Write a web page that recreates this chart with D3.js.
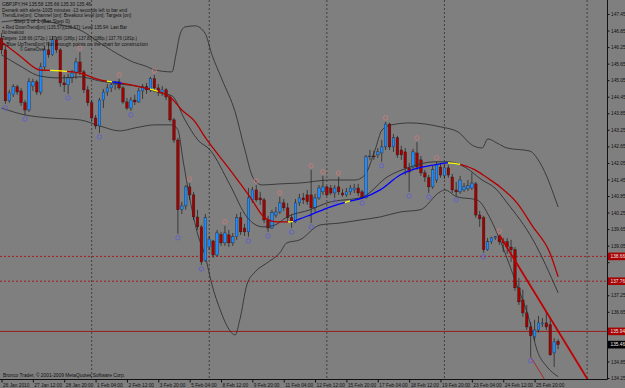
<!DOCTYPE html>
<html>
<head>
<meta charset="utf-8">
<script src="https://d3js.org/d3.v7.min.js"></script>
<style>
  body { margin: 0; background: #7f7f7f; }
  svg { display: block; }
  text { font-family: "Liberation Sans", Arial, sans-serif; }
</style>
</head>
<body>
<svg width="625" height="388"></svg>
<script>
// GBPJPY H4 candles, 26 Jan 2010 04:00 .. 26 Feb 2010 20:00 : [open, high, low, close]
var bars = [
  [146.58,146.76,146.00,146.15],[146.15,146.33,144.19,144.30],[144.30,144.70,144.23,144.59],[144.52,144.91,144.44,144.81],
  [144.81,144.88,144.52,144.62],[144.66,144.77,144.12,144.23],[144.23,144.33,143.79,143.97],[143.97,145.13,143.90,144.99],
  [144.84,145.10,144.66,144.99],[144.99,145.06,144.52,144.62],[144.62,145.68,144.52,145.53],[145.53,146.29,145.42,146.15],
  [146.15,146.44,145.86,145.97],[145.97,146.65,145.93,146.51],[146.51,146.62,146.04,146.15],[146.15,146.22,144.81,144.95],
  [144.95,145.24,144.62,144.88],[144.88,145.28,144.55,145.13],[145.13,145.42,144.95,145.31],[145.31,145.86,145.10,145.71],
  [145.71,146.07,145.24,145.35],[145.35,145.42,144.59,144.70],[144.70,144.84,144.12,144.23],[144.23,144.33,143.57,143.68],
  [143.68,143.79,143.28,143.39],[143.39,144.41,143.14,144.33],[144.33,144.73,144.04,144.62],[144.62,144.91,144.48,144.77],
  [144.77,145.02,144.62,144.88],[144.88,145.02,144.70,144.99],[144.99,145.10,144.70,144.77],[144.77,144.84,144.19,144.26],
  [144.26,144.41,143.97,144.04],[144.04,144.44,143.94,144.33],[144.33,144.52,144.15,144.26],[144.26,144.77,144.23,144.66],
  [144.66,144.91,144.37,144.81],[144.81,144.95,144.55,144.70],[144.70,145.17,144.62,145.10],[145.10,145.24,144.66,144.77],
  [144.77,144.91,144.48,144.62],[144.62,144.84,144.48,144.70],[144.70,144.77,144.33,144.44],[144.44,144.52,143.54,143.61],
  [143.61,143.68,142.78,142.88],[142.88,142.96,139.48,140.35],[140.35,140.64,140.20,140.49],[140.49,141.25,140.35,141.18],
  [141.18,141.32,140.71,140.89],[140.89,141.00,139.98,140.09],[140.09,140.35,139.62,139.73],[139.73,139.80,138.35,138.46],
  [138.50,140.20,138.46,140.06],[139.00,139.40,138.90,139.29],[139.22,139.26,138.61,138.71],[138.71,139.62,138.66,139.51],
  [139.45,139.55,139.04,139.15],[139.15,139.77,139.04,139.51],[139.44,139.62,139.00,139.15],[139.15,139.51,139.04,139.37],
  [139.37,140.20,139.26,140.06],[140.06,140.27,139.44,139.55],[139.69,139.84,139.40,139.55],[139.55,141.14,139.37,140.78],
  [140.71,141.18,140.60,141.07],[141.07,141.25,140.64,140.71],[140.78,141.00,140.53,140.71],[140.71,140.78,139.87,139.98],
  [139.98,140.13,139.55,139.69],[139.69,140.35,139.66,140.24],[140.16,140.45,140.06,140.27],[140.27,140.82,140.20,140.60],
  [140.60,140.74,140.31,140.42],[140.42,140.60,139.95,140.06],[140.06,140.20,139.69,139.91],[139.91,140.74,139.87,140.60],
  [140.60,140.93,140.49,140.78],[140.78,140.96,140.56,140.71],[140.89,141.07,140.53,140.64],[140.89,141.80,139.87,140.42],
  [140.42,140.93,140.27,140.78],[140.78,141.25,140.71,141.14],[141.00,141.58,140.89,141.18],[141.18,141.22,140.85,140.89],
  [141.14,141.25,140.89,140.96],[140.96,141.25,140.78,141.14],[141.18,141.54,140.89,141.00],[140.96,141.11,140.82,140.89],
  [140.89,141.14,140.82,141.00],[141.00,141.25,140.89,141.14],[141.07,141.29,140.96,141.14],[141.14,141.29,140.85,140.96],
  [141.00,141.07,140.74,140.78],[140.78,142.34,140.76,142.27],[142.27,142.52,142.16,142.30],[142.30,142.49,142.16,142.27],
  [142.34,142.59,142.23,142.45],[142.41,142.88,142.09,142.63],[142.63,143.54,142.52,143.46],[143.46,143.50,142.52,142.63],
  [142.63,143.10,142.45,142.96],[142.96,143.03,142.23,142.34],[142.52,142.67,142.16,142.34],[142.45,142.59,141.61,141.87],
  [141.87,142.05,141.00,141.72],[141.90,142.56,141.80,142.45],[142.41,142.81,141.80,141.90],[142.16,142.30,141.58,141.69],
  [141.69,141.80,141.36,141.54],[141.51,141.61,140.96,141.18],[141.18,141.94,141.11,141.80],[141.43,142.09,141.32,141.98],
  [141.90,142.05,141.51,141.61],[141.58,141.98,141.47,141.87],[141.87,141.98,141.51,141.61],[141.54,141.65,140.96,141.07],
  [141.07,141.36,140.85,141.00],[141.00,141.58,140.93,141.43],[141.07,141.32,141.00,141.18],[141.11,141.43,141.03,141.22],
  [141.14,141.69,141.07,141.32],[141.29,141.36,140.06,140.16],[140.16,140.31,139.73,140.02],[140.06,140.13,138.79,138.90],
  [138.90,139.33,138.86,139.19],[139.19,139.37,139.11,139.33],[139.33,139.40,139.26,139.37],[139.37,139.44,139.08,139.19],
  [139.19,139.33,138.82,139.15],[139.19,139.33,138.75,139.00],[139.00,139.26,138.46,138.90],[138.90,139.00,137.41,137.52],
  [137.52,137.88,136.90,137.01],[137.08,137.45,136.47,136.61],[136.61,136.90,135.99,136.10],[136.10,136.28,135.02,135.78],
  [135.74,136.36,135.60,135.99],[135.99,136.50,135.89,136.25],[136.21,136.43,136.10,136.25],[136.25,136.65,135.99,136.10],
  [136.18,136.43,135.05,135.09],[135.16,135.70,134.65,135.56],[135.58,135.66,135.30,135.46]
];

var timeLabels = ["26 Jan 2010","27 Jan 12:00","28 Jan 20:00","1 Feb 04:00","2 Feb 12:00","3 Feb 20:00",
  "5 Feb 04:00","8 Feb 12:00","9 Feb 20:00","11 Feb 04:00","12 Feb 12:00","15 Feb 20:00","17 Feb 04:00",
  "18 Feb 12:00","19 Feb 20:00","23 Feb 04:00","24 Feb 12:00","25 Feb 20:00"];
var labelBars = [0,8,16,24,32,40,48,56,64,72,80,88,96,104,112,120,128,136];
var priceTicks = [147.45,146.85,146.25,145.65,145.05,144.45,143.85,143.25,142.65,142.05,141.45,140.85,
  140.25,139.65,139.05,138.45,137.85,137.25,136.65,136.05,135.45,134.85,134.25];

var weekStarts = [23, 53, 83, 113];
var extraSeparator = 149.4;

var fractalHighs = [20,30,39,48,57,65,71,79,82,86,98,106,111,127];
var fractalLows = [1,6,17,25,33,45,51,63,68,74,79,85,92,97,104,109,116,123,135];

// moving average: [bar, price]
var maLine = [[0,146.44],[4.7,145.93],[9.8,145.42],[14.9,145.39],[20,145.31],[25.1,145.06],[30.2,144.95],
  [35.3,144.81],[40.4,144.62],[43,144.44],[46,143.97],[49.4,143.54],[51.9,142.99],[58.3,141.80],[63.4,140.82],
  [67.2,140.06],[70.3,139.91],[73.6,139.91],[76.1,140.02],[78.7,140.16],[83.8,140.45],[88.1,140.64],[92.2,140.78],
  [96.6,141.07],[101.7,141.61],[105.5,141.83],[110.6,141.98],[113.9,142.05],[117.5,141.98],[120.8,141.80],
  [123.9,141.51],[127.2,141.18],[131.5,140.60],[135.6,139.73],[139.9,138.79],[142,137.92]];
// direction of that average: [fromBar, toBar, state]
var maState = [[0,12.4,"down"],[12.4,16.7,"flat"],[16.7,26.9,"down"],[26.9,28.2,"flat"],[28.2,30.7,"up"],
  [30.7,37.9,"down"],[37.9,39.9,"flat"],[39.9,73.1,"down"],[73.1,74.4,"flat"],[74.4,87.6,"up"],
  [87.6,88.9,"flat"],[88.9,113.9,"up"],[113.9,117,"flat"],[117,142.5,"down"]];

var midLine = [[0,145.97],[4.7,145.57],[9.8,145.20],[14.9,145.13],[20,145.17],[25.1,145.02],[30.2,144.91],
  [35.3,144.81],[40.4,144.59],[43.5,144.48],[46.8,143.61],[50.1,142.88],[53.2,142.52],[58.3,141.25],[62.6,140.09],
  [66.7,139.73],[69.8,139.80],[72.8,140.09],[78.7,140.35],[83,140.60],[92.2,140.82],[98.4,141.54],[104.2,141.90],
  [110.6,142.09],[113.9,142.09],[118.2,141.90],[122.6,141.43],[125.9,141.14],[129,140.60],[135.6,139.26],[142,137.34]];

var bandUpper = [[0,147.16],[6,147.23],[12.4,147.16],[16.2,147.02],[20,146.87],[25.1,146.40],[31,145.89],
  [33.5,145.71],[36.6,145.57],[39.2,145.42],[43.5,145.35],[44.5,145.97],[45.5,146.69],[46.8,146.98],[49.4,147.02],
  [51.9,146.76],[53.7,145.97],[56.3,145.06],[59.6,143.90],[62.1,142.52],[64.2,141.51],[66.5,141.25],[71,141.29],
  [76.1,141.32],[83.8,141.43],[90.2,141.43],[92.7,141.61],[95.3,142.52],[97.1,143.25],[99.6,143.43],[104.2,143.50],
  [111.9,143.36],[116.5,143.17],[120,142.70],[122.6,142.59],[124.1,142.92],[126.4,142.77],[129,142.59],
  [134.8,142.48],[137.4,142.05],[142,140.45]];

var bandLower = [[0,144.04],[6,143.79],[12.4,143.68],[20,143.61],[25.1,143.39],[30.2,143.21],[34.1,143.32],
  [39.2,143.43],[43.5,143.43],[45,143.25],[46.3,142.16],[48.1,140.71],[50.1,139.44],[51.9,138.71],[53.7,137.63],
  [55.8,136.72],[57.8,136.07],[59.6,135.81],[60.8,136.36],[62.6,137.63],[64.7,138.10],[67.7,138.42],[71,138.79],
  [72.8,139.15],[76.1,139.26],[81.3,139.80],[86.4,139.87],[91.5,139.98],[96.6,140.09],[101.7,140.27],[106.8,140.35],
  [111.9,141.00],[113.1,141.07],[116.2,140.82],[121.3,140.71],[124.6,140.06],[126.4,139.51],[131,137.81],
  [134.8,136.28],[136.6,135.27],[139.2,134.65],[142,134.30]];

var targets = [138.66, 137.76];
var breakoutLevel = 135.94;
var bidPrice = 135.46;
var downTrendBars = [127, 139];
var channelBar = 135;

var infoLines = [
  "GBPJPY,H4  135.58 135.66 135.30 135.46",
  "Demark with alerts-1005 minutes -13 seconds left to bar end",
  "TrendLine[on]: Channel [on]: Breakout level [on]: Targets [on]",
  "Step 1 of 1 (Bar Step 0)",
  "+ Red DownTrend[on] (135.57)(136.67): Level 135.94: Last Bar",
  "No breakout",
  "Targets: 138.66 (272p.) 137.80 (186p.) 137.80 (186p.) 137.76 (181p.)",
  "+ Blue UpTrend[on] Not enough points on the chart for construction",
  "\u00a9 GameOver"
];
var copyright = "Bronco Trader, \u00a9 2001-2009 MetaQuotes Software Corp.";

// ---------------------------------------------------------------
var W = 625, H = 388, right = 607, bottom = 379;
var svg = d3.select("svg");
svg.append("rect").attr("width", W).attr("height", H).attr("fill", "#7f7f7f");

var x = d3.scaleLinear().domain([0, bars.length - 1]).range([1.5, 558.1]);
var y = d3.scaleLinear().domain([134.25, 147.45]).range([378, 14]);

var defs = svg.append("defs");
defs.append("clipPath").attr("id", "plot").append("rect").attr("width", right).attr("height", bottom);
var plot = svg.append("g").attr("clip-path", "url(#plot)");

// period separators
plot.selectAll(".sep").data(weekStarts.concat([extraSeparator])).enter().append("line")
  .attr("x1", d => x(d)).attr("x2", d => x(d)).attr("y1", 0).attr("y2", bottom)
  .attr("stroke", "#262626").attr("stroke-width", 0.7).attr("stroke-dasharray", "2,2");

// target and breakout levels
plot.selectAll(".target").data(targets).enter().append("line")
  .attr("x1", 0).attr("x2", right).attr("y1", d => y(d)).attr("y2", d => y(d))
  .attr("stroke", "#b00000").attr("stroke-width", 0.8).attr("stroke-dasharray", "2,2");
plot.append("line").attr("x1", 0).attr("x2", right)
  .attr("y1", y(breakoutLevel)).attr("y2", y(breakoutLevel))
  .attr("stroke", "#a00000").attr("stroke-width", 0.8);

var line = d3.line().x(d => x(d[0])).y(d => y(d[1])).curve(d3.curveMonotoneX);

// bollinger bands
[bandUpper, bandLower].forEach(function(b) {
  plot.append("path").datum(b).attr("d", line)
    .attr("fill", "none").attr("stroke", "#2a2a2a").attr("stroke-width", 0.8);
});

// candles
var bw = 2.6;
var cg = plot.append("g");
cg.selectAll(".wick").data(bars).enter().append("line")
  .attr("x1", (d, i) => x(i)).attr("x2", (d, i) => x(i))
  .attr("y1", d => y(d[1])).attr("y2", d => y(d[2]))
  .attr("stroke", "#1c1c1c").attr("stroke-width", 0.7);
cg.selectAll(".body").data(bars).enter().append("rect")
  .attr("x", (d, i) => x(i) - bw / 2).attr("width", bw)
  .attr("y", d => y(Math.max(d[0], d[3])))
  .attr("height", d => Math.max(0.8, Math.abs(y(d[0]) - y(d[3]))))
  .attr("fill", d => d[3] >= d[0] ? "#1e8cff" : "#a30000")
  .attr("stroke", "#1c1c1c").attr("stroke-width", 0.35);

// middle line
plot.append("path").datum(midLine).attr("d", line)
  .attr("fill", "none").attr("stroke", "#303030").attr("stroke-width", 0.9);

// coloured moving average, one clip per state
var stateColor = { down: "#b40000", up: "#0000ff", flat: "#ffff00" };
Object.keys(stateColor).forEach(function(s) {
  var cp = defs.append("clipPath").attr("id", "ma-" + s);
  maState.filter(d => d[2] === s).forEach(function(d) {
    cp.append("rect").attr("x", x(d[0])).attr("width", x(d[1]) - x(d[0]))
      .attr("y", 0).attr("height", bottom);
  });
  plot.append("g").attr("clip-path", "url(#ma-" + s + ")")
    .append("path").datum(maLine).attr("d", line)
    .attr("fill", "none").attr("stroke", stateColor[s]).attr("stroke-width", 1.3);
});

// demark down trend line through two highs, and its channel through a low
var b1 = downTrendBars[0], b2 = downTrendBars[1];
var slope = (bars[b2][1] - bars[b1][1]) / (b2 - b1);
var floorPrice = y.invert(bottom + 2);
var endBar = b1 + (floorPrice - bars[b1][1]) / slope;
plot.append("line")
  .attr("x1", x(b1)).attr("y1", y(bars[b1][1]))
  .attr("x2", x(endBar)).attr("y2", y(floorPrice))
  .attr("stroke", "#c00000").attr("stroke-width", 1.8);
var chEnd = channelBar + (floorPrice - bars[channelBar][2]) / slope;
plot.append("line")
  .attr("x1", x(channelBar)).attr("y1", y(bars[channelBar][2]))
  .attr("x2", x(chEnd)).attr("y2", y(floorPrice))
  .attr("stroke", "#c00000").attr("stroke-width", 0.7);

// fractal marks
plot.selectAll(".fh").data(fractalHighs).enter().append("circle")
  .attr("cx", d => x(d)).attr("cy", d => y(bars[d][1]) - 4).attr("r", 2.2)
  .attr("fill", "none").attr("stroke", "#d07a7a").attr("stroke-width", 0.8);
plot.selectAll(".fl").data(fractalLows).enter().append("circle")
  .attr("cx", d => x(d)).attr("cy", d => y(bars[d][2]) + 4).attr("r", 2.2)
  .attr("fill", "none").attr("stroke", "#5a5ad8").attr("stroke-width", 0.8);

// info text
var infoX = [2, 2, 2, 14, 2, 2, 2, 2, 20];
var infoW = [89, 125, 129, 56, 125, 22, 135, 146, 25];
svg.append("g").selectAll("text").data(infoLines).enter().append("text")
  .attr("x", (d, i) => infoX[i]).attr("y", (d, i) => 6 + i * 5.65)
  .attr("textLength", (d, i) => infoW[i]).attr("lengthAdjust", "spacingAndGlyphs")
  .attr("font-size", 4.8).attr("fill", "#111").text(d => d);
svg.append("text").attr("x", 3).attr("y", 377).attr("font-size", 4.8).attr("fill", "#111")
  .attr("textLength", 122).attr("lengthAdjust", "spacingAndGlyphs").text(copyright);

// axes
svg.append("line").attr("x1", right + 0.5).attr("x2", right + 0.5).attr("y1", 0).attr("y2", bottom + 0.5)
  .attr("stroke", "#111").attr("stroke-width", 1);
svg.append("line").attr("x1", 0).attr("x2", right + 0.5).attr("y1", bottom + 0.5).attr("y2", bottom + 0.5)
  .attr("stroke", "#111").attr("stroke-width", 1);

// price boxes on the axis cover the ticks that sit under them
var boxes = targets.map(v => ({ v: v, c: "#a80000" }))
  .concat([{ v: breakoutLevel, c: "#a80000" }, { v: bidPrice, c: "#000" }]);
var covered = v => boxes.some(b => Math.abs(y(b.v) - y(v)) < 6);

var yAxis = svg.append("g").attr("transform", "translate(" + (right + 0.5) + ",0)")
  .call(d3.axisRight(y).tickValues(priceTicks).tickSize(2).tickPadding(1.5)
    .tickFormat(d => covered(d) ? "" : d3.format(".2f")(d)));
var xAxis = svg.append("g").attr("transform", "translate(0," + (bottom + 0.5) + ")")
  .call(d3.axisBottom(x).tickValues(labelBars).tickSize(3).tickPadding(1).tickFormat((d, i) => timeLabels[i]));
[yAxis, xAxis].forEach(function(a) {
  a.select(".domain").remove();
  a.selectAll("line").attr("stroke", "#111");
  a.selectAll("text").attr("font-size", 4.8).attr("fill", "#111")
    .attr("font-family", "Liberation Sans, Arial, sans-serif");
});
xAxis.selectAll("text").attr("text-anchor", "start").attr("dx", 1);

var bg = svg.append("g");
bg.selectAll("rect").data(boxes).enter().append("rect")
  .attr("x", right + 1).attr("width", W - right - 1).attr("y", d => y(d.v) - 3.8).attr("height", 7.6)
  .attr("fill", d => d.c);
bg.selectAll("text").data(boxes).enter().append("text")
  .attr("x", right + 3.5).attr("y", d => y(d.v)).attr("dy", "0.35em")
  .attr("font-size", 4.8).attr("fill", "#e8e8e8").text(d => d3.format(".2f")(d.v));
</script>
</body>
</html>
